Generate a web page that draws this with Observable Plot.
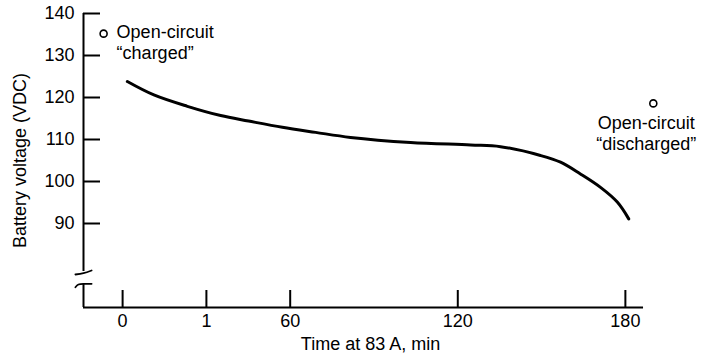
<!DOCTYPE html>
<html>
<head>
<meta charset="utf-8">
<script src="https://cdn.jsdelivr.net/npm/d3@7"></script>
<script src="https://cdn.jsdelivr.net/npm/@observablehq/plot@0.6"></script>
<style>
  html, body { margin: 0; padding: 0; background: #fff; }
  #chart { width: 704px; height: 358px; }
</style>
</head>
<body>
<div id="chart"></div>
<script>
// ---- data ----
const curveTime    = [1.7, 11.2, 23.2, 35.1, 45.1, 57.2, 69.1, 81.6, 103.1, 124.6, 135.3, 149.6, 156.8, 163.9, 171.1, 177.1, 181.2];
const curveVoltage = [123.8, 120.6, 117.9, 115.7, 114.4, 112.9, 111.7, 110.5, 109.3, 108.7, 108.3, 106.2, 104.6, 101.8, 98.6, 95.1, 91.1];

const openTime    = [-6.8, 190];
const openVoltage = [135.2, 118.6];
const openLabels  = ["Open-circuit\n\u201Ccharged\u201D", "Open-circuit\n\u201Cdischarged\u201D"];

const xTicks      = [0, 30, 60, 120, 180];
const xTickLabels = ["0", "1", "60", "120", "180"];
const yTicks      = [90, 100, 110, 120, 130, 140];

const xTitle = "Time at 83 A, min";
const yTitle = "Battery voltage (VDC)";

// axis extents (data units) and the scale break on the voltage axis
const xDomain = [-14, 191.5];
const yDomain = [70, 140];
const xAxisEnd = 186.5;
const yBreakTop = 78.6;
const yBreakBottom = 75.6;
const breakUpperT = [-16.9, -14, -11.1];
const breakUpperV = [77.86, 78.17, 78.81];
const breakLowerT = [-16.9, -15.8, -14, -11.1];
const breakLowerV = [74.83, 75.48, 75.64, 75.64];
// title anchor positions (data units)
const yTitlePos = {t: -36.5, v: 105};

// ---- tables ----
const curve = curveTime.map((t, i) => ({t, v: curveVoltage[i]}));
const openPts = openTime.map((t, i) => ({t, v: openVoltage[i], label: openLabels[i]}));
const breakUpper = breakUpperT.map((t, i) => ({t, v: breakUpperV[i]}));
const breakLower = breakLowerT.map((t, i) => ({t, v: breakLowerV[i]}));

const W = 704, H = 358;
const mL = 83, mR = 47, mT = 13, mB = 51;
const frameW = W - mL - mR, frameH = H - mT - mB;
const tickLen = 17;
const font = "'Liberation Sans', Arial, Helvetica, sans-serif";
const fs = 18;

const chart = Plot.plot({
  width: W,
  height: H,
  marginLeft: mL,
  marginRight: mR,
  marginTop: mT,
  marginBottom: mB,
  style: {fontFamily: font, fontSize: fs + "px", color: "#000", background: "#fff", overflow: "visible"},
  x: {domain: xDomain, ticks: xTicks},
  y: {domain: yDomain, ticks: yTicks},
  marks: [
    Plot.axisX({ticks: xTicks, tickSize: 0, tickPadding: 7, tickFormat: d => xTickLabels[xTicks.indexOf(d)], label: null, fontSize: fs}),
    Plot.axisY({ticks: yTicks, tickSize: 0, tickPadding: 9, label: null, fontSize: fs}),
    // axis lines
    Plot.ruleY([yDomain[0]], {x1: xDomain[0], x2: xAxisEnd, stroke: "#000", strokeWidth: 2}),
    Plot.ruleX([xDomain[0]], {y1: yBreakTop, y2: yDomain[1], stroke: "#000", strokeWidth: 2}),
    Plot.ruleX([xDomain[0]], {y1: yDomain[0], y2: yBreakBottom, stroke: "#000", strokeWidth: 2}),
    Plot.line(breakUpper, {x: "t", y: "v", curve: "natural", stroke: "#000", strokeWidth: 1.8}),
    Plot.line(breakLower, {x: "t", y: "v", curve: "natural", stroke: "#000", strokeWidth: 1.8}),
    // inward ticks
    Plot.ruleY(yTicks, {stroke: "#000", strokeWidth: 2, insetRight: frameW - tickLen}),
    Plot.ruleX(xTicks, {stroke: "#000", strokeWidth: 2, insetTop: frameH - tickLen}),
    // data
    Plot.line(curve, {x: "t", y: "v", curve: "catmull-rom", stroke: "#000", strokeWidth: 3}),
    Plot.dot(openPts, {x: "t", y: "v", r: 3.5, stroke: "#000", strokeWidth: 1.6, fill: "#fff"}),
    Plot.text(openPts.slice(0, 1), {x: "t", y: "v", text: "label", textAnchor: "start", dx: 13, dy: 8, lineHeight: 1.2, fontSize: fs}),
    Plot.text(openPts.slice(1), {x: "t", y: "v", text: "label", textAnchor: "middle", dx: -7, dy: 29, lineHeight: 1.2, fontSize: fs}),
    // titles
    Plot.text([xTitle], {frameAnchor: "bottom", dy: 42, fontSize: fs}),
    Plot.text([yTitlePos], {x: "t", y: "v", text: () => yTitle, rotate: -90, fontSize: fs})
  ]
});
document.getElementById("chart").appendChild(chart);
</script>
</body>
</html>
